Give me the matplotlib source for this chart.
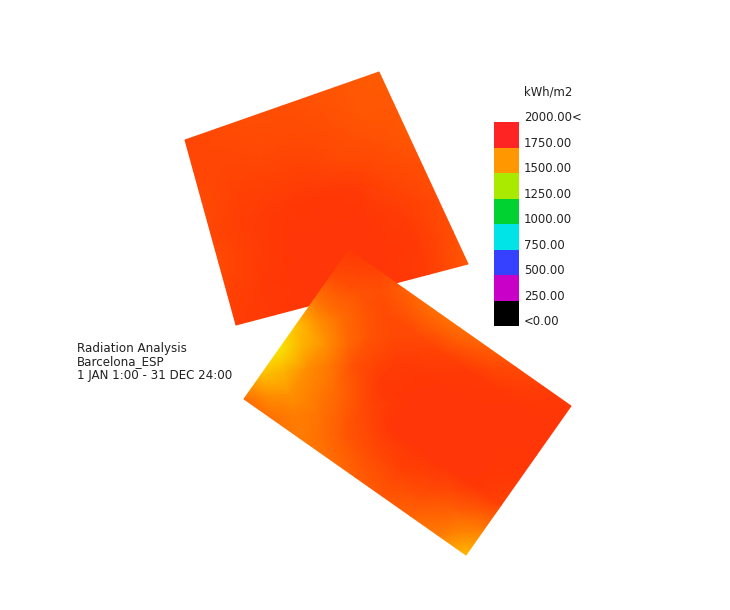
import numpy as np
import matplotlib
matplotlib.use("Agg")
import matplotlib.pyplot as plt
from matplotlib.colors import LinearSegmentedColormap, Normalize

# legend
legend_ticks = [0, 250, 500, 750, 1000, 1250, 1500, 1750, 2000]
legend_labels = ["<0.00", "250.00", "500.00", "750.00", "1000.00", "1250.00", "1500.00", "1750.00", "2000.00<"]
legend_colors = ["#000000", "#c800c8", "#3640ff", "#00e4e8", "#00d232", "#aaea00", "#ff9800", "#ff2424"]
legend_unit = "kWh/m2"

caption = "Radiation Analysis\nBarcelona_ESP\n1 JAN 1:00 - 31 DEC 24:00"

# surface outlines, picture coordinates: first, row end, col end, far corner
top_outline = [(185, 140), (236, 325), (379, 72), (468, 264)]
low_outline = [(349, 250), (244, 399), (571, 406), (466, 555)]

# kWh/m2
top_values = np.array([
    [1770, 1765, 1755, 1750, 1745, 1735, 1730],
    [1770, 1770, 1765, 1760, 1750, 1740, 1735],
    [1765, 1775, 1775, 1775, 1765, 1750, 1740],
    [1770, 1785, 1795, 1800, 1790, 1770, 1750],
    [1765, 1785, 1805, 1810, 1805, 1785, 1760],
    [1775, 1790, 1805, 1810, 1810, 1795, 1750],
    [1785, 1795, 1805, 1810, 1810, 1785, 1735],
])
low_values = np.array([
    [1795, 1780, 1725, 1690, 1690, 1725, 1760, 1785, 1800],
    [1760, 1745, 1765, 1765, 1775, 1790, 1800, 1805, 1805],
    [1680, 1700, 1745, 1785, 1800, 1810, 1810, 1810, 1805],
    [1560, 1625, 1745, 1790, 1805, 1810, 1810, 1810, 1795],
    [1490, 1640, 1700, 1765, 1805, 1810, 1810, 1800, 1775],
    [1560, 1625, 1680, 1735, 1765, 1775, 1765, 1725, 1670],
    [1700, 1690, 1670, 1690, 1725, 1735, 1715, 1670, 1565],
])

cmap = LinearSegmentedColormap.from_list("radiation", [
    (0.0, "#000000"),
    (0.19, "#c800c8"),
    (0.31, "#3640ff"),
    (0.44, "#00e4e8"),
    (0.56, "#00d232"),
    (0.6875, "#aaea00"),
    (0.75, "#ffe600"),
    (0.8125, "#ff9600"),
    (0.90, "#ff3705"),
    (1.0, "#ff2424"),
])
norm = Normalize(0, 2000)

fig = plt.figure(figsize=(7.3, 6.1), dpi=100)
ax = fig.add_axes([0, 0, 1, 1])
ax.set_xlim(0, 730)
ax.set_ylim(610, 0)
ax.axis("off")


def draw_surface(outline, values):
    p00, p10, p01, p11 = [np.array(p, dtype=float) for p in outline]
    rows = np.linspace(0, 1, values.shape[0])
    cols = np.linspace(0, 1, values.shape[1])
    r, c = np.meshgrid(rows, cols, indexing="ij")
    x = (1 - r) * (1 - c) * p00[0] + r * (1 - c) * p10[0] + (1 - r) * c * p01[0] + r * c * p11[0]
    y = (1 - r) * (1 - c) * p00[1] + r * (1 - c) * p10[1] + (1 - r) * c * p01[1] + r * c * p11[1]
    ax.pcolormesh(x, y, values, shading="gouraud", cmap=cmap, norm=norm, rasterized=True)


draw_surface(top_outline, top_values)
draw_surface(low_outline, low_values)

ax.text(77, 362, caption, fontsize=8.6, color="#222222", va="center", ha="left", linespacing=1.08)

# legend bar
lax = fig.add_axes([494 / 730, 1 - 326 / 610, 25 / 730, 204 / 610])
lax.bar(0, np.diff(legend_ticks), bottom=legend_ticks[:-1], width=1, color=legend_colors)
lax.set_xlim(-0.5, 0.5)
lax.set_ylim(0, 2000)
lax.axis("off")
for val, lab in zip(legend_ticks, legend_labels):
    lax.annotate(lab, (1, val), xycoords=("axes fraction", "data"), xytext=(3.6, 3.0),
                 textcoords="offset points", fontsize=8.4, color="#222222",
                 va="center", ha="left", annotation_clip=False)
lax.annotate(legend_unit, (1, 2000), xycoords=("axes fraction", "data"), xytext=(3.6, 21.5),
             textcoords="offset points", fontsize=8.4, color="#222222",
             va="center", ha="left", annotation_clip=False)

fig.savefig("out.png", dpi=100)
